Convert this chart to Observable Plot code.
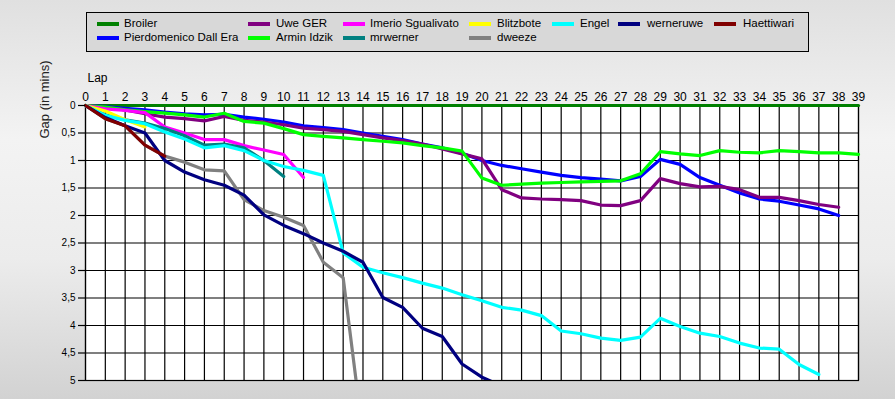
<!DOCTYPE html>
<html>
<head>
<meta charset="utf-8">
<script src="https://cdn.jsdelivr.net/npm/d3@7"></script>
<script src="https://cdn.jsdelivr.net/npm/@observablehq/plot@0.6"></script>
<style>
html, body { margin: 0; padding: 0; }
body {
  width: 895px; height: 399px; overflow: hidden;
  background: linear-gradient(to bottom, #e0e0e0 0%, #f3f3f3 35%, #ececec 65%, #d2d2d2 100%);
  font-family: "Liberation Sans", Arial, sans-serif;
}
#wrap { position: relative; width: 895px; height: 399px; }
#legend {
  position: absolute; left: 86px; top: 12px; width: 723px; height: 40px;
  border: 1px solid #000; box-sizing: border-box; background: #d8d8d8;
}
.sw { position: absolute; height: 4px; width: 22px; }
.lt { position: absolute; font-size: 11.5px; line-height: 13px; color: #000; white-space: nowrap; }
#chart { position: absolute; left: 0; top: 60px; }
</style>
</head>
<body>
<div id="wrap">
  <div id="legend"></div>
  <div id="chart"></div>
</div>
<script>
// ---- data ----
const laps = [0,1,2,3,4,5,6,7,8,9,10,11,12,13,14,15,16,17,18,19,20,21,22,23,24,25,26,27,28,29,30,31,32,33,34,35,36,37,38,39];
const gapTicks = [0,0.5,1,1.5,2,2.5,3,3.5,4,4.5,5];

const names = ["Broiler","Pierdomenico Dall Era","Uwe GER","Armin Idzik","Imerio Sgualivato","mrwerner","Blitzbote","dweeze","Engel","werneruwe","Haettiwari"];
const colors = ["#008000","#0000ff","#800080","#00ff00","#ff00ff","#008080","#ffff00","#808080","#00ffff","#000080","#800000"];

const broiler = [0,0,0,0,0,0,0,0,0,0,0,0,0,0,0,0,0,0,0,0,0,0,0,0,0,0,0,0,0,0,0,0,0,0,0,0,0,0,0,0];
const pierdomenico = [0,0.02,0.05,0.08,0.12,0.15,0.17,0.16,0.21,0.25,0.30,0.37,0.40,0.44,0.50,0.56,0.62,0.70,0.77,0.87,1.00,1.09,1.15,1.21,1.27,1.31,1.34,1.37,1.29,0.98,1.07,1.31,1.45,1.59,1.70,1.74,1.81,1.88,2.00];
const uwe = [0,0.03,0.08,0.15,0.21,0.24,0.28,0.20,0.27,0.30,0.35,0.41,0.44,0.47,0.53,0.59,0.64,0.70,0.79,0.88,0.97,1.53,1.68,1.70,1.71,1.73,1.81,1.82,1.73,1.33,1.42,1.48,1.47,1.53,1.67,1.67,1.73,1.80,1.85];
const armin = [0,0.03,0.08,0.11,0.14,0.17,0.21,0.14,0.29,0.32,0.42,0.53,0.56,0.59,0.62,0.65,0.68,0.73,0.77,0.83,1.32,1.45,1.43,1.41,1.40,1.39,1.38,1.37,1.24,0.84,0.88,0.91,0.82,0.85,0.86,0.82,0.84,0.86,0.86,0.89];
const imerio = [0,0.06,0.09,0.13,0.39,0.50,0.62,0.62,0.73,0.81,0.89,1.31];
const mrwerner = [0,0.17,0.26,0.32,0.42,0.55,0.72,0.70,0.77,1.00,1.29];
const blitzbote = [0,0.10,0.26,0.39];
const dweeze = [0,0.24,0.37,0.72,0.92,1.03,1.17,1.19,1.71,1.91,2.03,2.18,2.85,3.13,6.00];
const engel = [0,0.18,0.27,0.33,0.48,0.61,0.77,0.73,0.82,1.00,1.11,1.18,1.27,2.68,2.94,3.04,3.13,3.23,3.32,3.44,3.55,3.67,3.72,3.82,4.10,4.15,4.23,4.27,4.21,3.87,4.02,4.14,4.20,4.32,4.41,4.43,4.71,4.89];
const werneruwe = [0,0.22,0.37,0.50,1.00,1.21,1.35,1.45,1.63,1.99,2.18,2.33,2.50,2.65,2.85,3.49,3.67,4.05,4.20,4.70,4.94,5.10];
const haettiwari = [0,0.24,0.37,0.72,0.92];

const seriesValues = [broiler, pierdomenico, uwe, armin, imerio, mrwerner, blitzbote, dweeze, engel, werneruwe, haettiwari];

// legend layout (row-major display)
const legendOrder = [
  ["Broiler",0,0],["Uwe GER",1,0],["Imerio Sgualivato",2,0],["Blitzbote",3,0],["Engel",4,0],["werneruwe",5,0],["Haettiwari",6,0],
  ["Pierdomenico Dall Era",0,1],["Armin Idzik",1,1],["mrwerner",2,1],["dweeze",3,1]
];
const colSwatchX = [97,248,343,469,552,618,714];
const colTextX = [124,276,370,497,580,647,743];

const legend = document.getElementById("legend");
for (const [name, col, row] of legendOrder) {
  const c = colors[names.indexOf(name)];
  const sw = document.createElement("div");
  sw.className = "sw";
  sw.style.left = (colSwatchX[col] - 87) + "px";
  sw.style.top = (row === 0 ? 9 : 23) + "px";
  sw.style.background = c;
  legend.appendChild(sw);
  const t = document.createElement("div");
  t.className = "lt";
  t.style.left = (colTextX[col] - 87) + "px";
  t.style.top = (row === 0 ? 4 : 18) + "px";
  t.textContent = name;
  legend.appendChild(t);
}

const lineMarks = seriesValues.map((vals, i) =>
  Plot.line(vals.map((v, k) => ({lap: laps[k], gap: v})), {
    x: "lap", y: "gap", stroke: colors[i], strokeWidth: 3.2,
    clip: d3.max(vals) > 5
  })
);

const fmt = d => String(d).replace(".", ",");

const chart = Plot.plot({
  width: 895,
  height: 339,
  marginTop: 45,
  marginBottom: 19,
  marginLeft: 85,
  marginRight: 37,
  style: { background: "transparent", fontFamily: "'Liberation Sans', Arial, sans-serif", color: "#000", overflow: "visible" },
  x: { domain: [0, 39], label: null },
  y: { domain: [0, 5], reverse: true, label: null },
  marks: [
    Plot.frame({ fill: "#fff", stroke: null }),
    Plot.gridX(laps, { stroke: "#000", strokeOpacity: 1, strokeWidth: 1.2 }),
    Plot.gridY(gapTicks, { stroke: "#000", strokeOpacity: 1, strokeWidth: 1.2 }),
    Plot.frame({ stroke: "#000", strokeWidth: 1.2 }),
    ...lineMarks,
    Plot.axisX(laps, { anchor: "top", tickSize: 0, tickPadding: 5, fontSize: 12, label: null }),
    Plot.axisY(gapTicks, { anchor: "left", tickSize: 7, tickPadding: 3, fontSize: 10, tickFormat: fmt, label: null, strokeWidth: 1.2 }),
    Plot.text(["Lap"], { frameAnchor: "top-left", dx: 2, dy: -32, textAnchor: "start", fontSize: 12 }),
    Plot.text(["Gap (in mins)"], { frameAnchor: "top-left", dx: -46, dy: 33, rotate: -90, fontSize: 13, fill: "#222" })
  ]
});
document.getElementById("chart").appendChild(chart);
</script>
</body>
</html>
